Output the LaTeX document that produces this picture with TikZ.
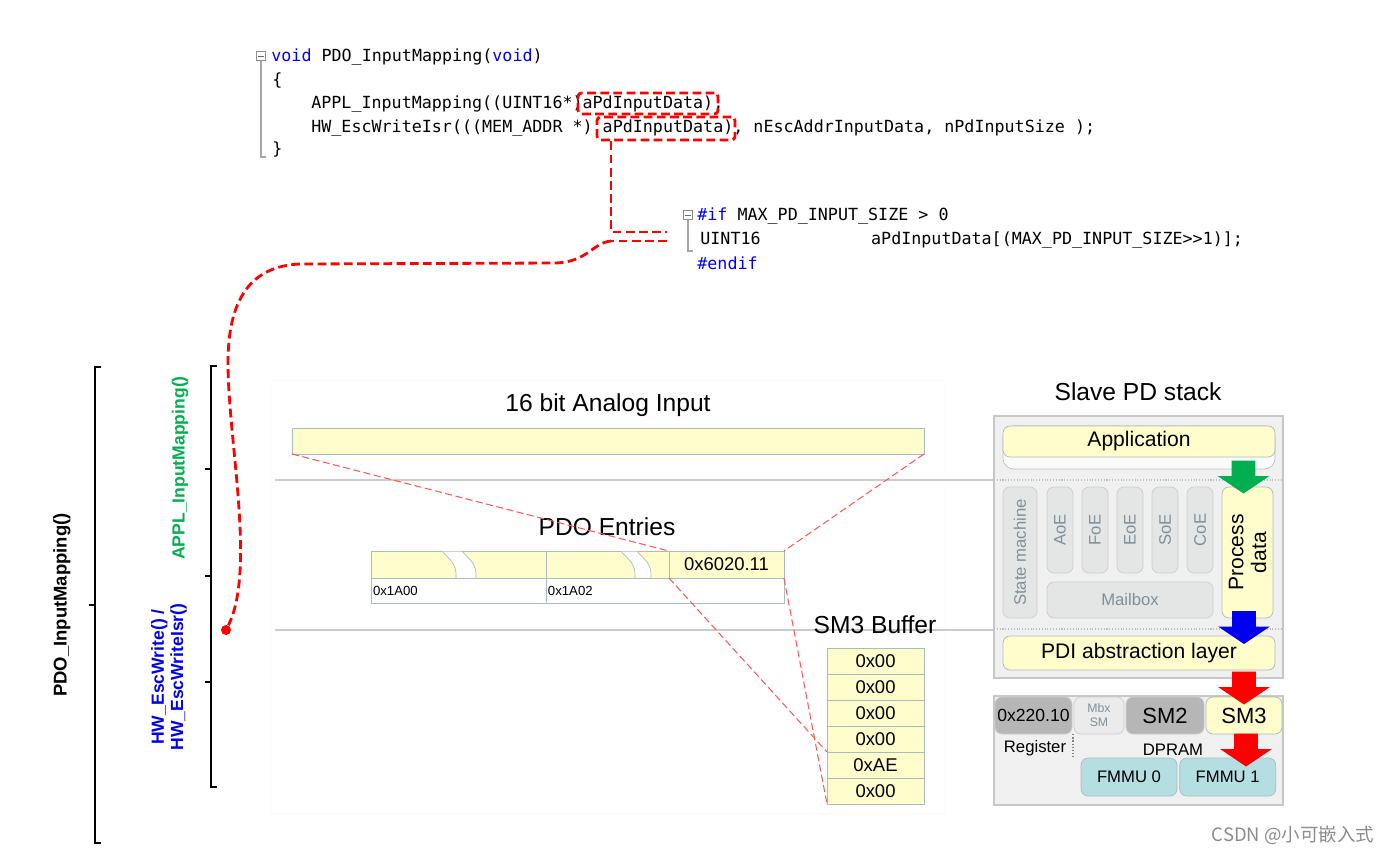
\documentclass[tikz,border=0pt]{standalone}
\usepackage{fontspec}
\setmainfont{Liberation Sans}
\setmonofont{DejaVu Sans Mono}
\newfontfamily\cjk{Noto Sans CJK SC}
\usepackage{tikz}
\usetikzlibrary{shapes.arrows, arrows, positioning}

\definecolor{padyellow}{HTML}{FFFDCC}
\definecolor{celledge}{HTML}{A8BDBD}
\definecolor{stackgray}{HTML}{F0F0F0}
\definecolor{boxgray}{HTML}{E4E6E6}
\definecolor{labelgray}{HTML}{7F9098}
\definecolor{darkcell}{HTML}{B6B6B6}
\definecolor{fmmublue}{HTML}{B5DEE2}
\definecolor{kwblue}{HTML}{0000FF}
\definecolor{okgreen}{HTML}{00B050}
\definecolor{hwblue}{HTML}{0000EE}

\begin{document}
\begin{tikzpicture}[x=0.02cm, y=-0.02cm, node distance=0.52cm]
    \tikzstyle{code} = [anchor=west, inner sep=0, font=\ttfamily\fontsize{9.5}{11}\selectfont]
    \tikzstyle{fold} = [draw=black!45, fill=white, minimum size=0.19cm, inner sep=0, path picture={\draw[black!60] ([xshift=-0.055cm]path picture bounding box.center) -- ([xshift=0.055cm]path picture bounding box.center);}]
    \tikzstyle{foldline} = [black!35, line width=0.6pt]
    \tikzstyle{hilite} = [draw=red, dash pattern=on 5pt off 2.5pt, line width=1.6pt, rounded corners=2pt, inner sep=0]
    \tikzstyle{reddash} = [red, dash pattern=on 5pt off 2.5pt, line width=1.6pt]
    \tikzstyle{brace} = [black, line width=0.8pt]
    \tikzstyle{title} = [font=\fontsize{14}{16}\selectfont]
    \tikzstyle{cell} = [draw=celledge, fill=padyellow, inner sep=0, outer sep=0, minimum height=0.52cm, font=\fontsize{10.5}{12}\selectfont]
    \tikzstyle{rowcell} = [draw=celledge, fill=white, inner ysep=0, inner xsep=0.04cm, outer sep=0, minimum height=0.5cm, align=left, font=\fontsize{7.5}{9}\selectfont]
    \tikzstyle{zoomline} = [red!65, line width=0.6pt, dash pattern=on 4pt off 2pt]
    \tikzstyle{sepline} = [black!20, line width=0.8pt]
    \tikzstyle{dotline} = [black!25, densely dotted, line width=0.6pt]
    \tikzstyle{stackbox} = [draw=black!22, fill=stackgray, line width=0.8pt, inner sep=0]
    \tikzstyle{graybox} = [draw=black!20, fill=boxgray, rounded corners=4pt, text=labelgray, inner sep=0, font=\fontsize{9.5}{11}\selectfont]
    \tikzstyle{yellowbox} = [draw=celledge, fill=padyellow, rounded corners=4pt, inner sep=0, font=\fontsize{12}{13}\selectfont]
    \tikzstyle{regcell} = [draw=black!20, rounded corners=4pt, inner sep=0, minimum height=0.74cm]
    \tikzstyle{flow} = [single arrow, rotate=-90, minimum height=0.66cm, inner xsep=0, inner ysep=0.23cm, single arrow head extend=0.28cm, single arrow tip angle=112, draw=none]

    \fill[white] (0,0) rectangle (1395,856);
    \useasboundingbox (0,0) rectangle (1395,856);

    \node (f1) [fold] at (261,56) {};
    \draw[foldline] (f1.south) -- (261,157) -- (266,157);
    \node (l1) [code] at (271,57) {\textcolor{kwblue}{void} PDO\_InputMapping(\textcolor{kwblue}{void})};
    \node (l2) [code] at (272,81) {\{};
    \node (l3) [code] at (311,104) {APPL\_InputMapping((UINT16*)aPdInputData);};
    \node (l4) [code] at (311,128) {HW\_EscWriteIsr(((MEM\_ADDR *) aPdInputData), nEscAddrInputData, nPdInputSize );};
    \node (l5) [code] at (272,150) {\}};
    \node (hl1) [hilite, minimum width=2.8cm, minimum height=0.42cm] at (648,103.5) {};
    \node (hl2) [hilite, minimum width=2.76cm, minimum height=0.46cm] at (666,128.5) {};

    \node (f2) [fold] at (688,215) {};
    \draw[foldline] (f2.south) -- (688,251) -- (693,251);
    \node (d1) [code] at (697,216) {\textcolor{kwblue}{\#if} MAX\_PD\_INPUT\_SIZE > 0};
    \node (d2) [code] at (700,240) {UINT16\hspace{62.9pt}aPdInputData[(MAX\_PD\_INPUT\_SIZE>>1)];};
    \node (d3) [code] at (697,263) {\textcolor{kwblue}{\#endif}};

    \draw[black!2] (270,380) rectangle (945,813);

    \draw[brace] (101,367) -- (95,367) -- (95,843) -- (101,843);
    \draw[brace] (95,605) -- (89,605);
    \draw[brace] (217,366) -- (211,366) -- (211,787) -- (217,787);
    \draw[brace] (211,469) -- (205,469);
    \draw[brace] (211,576) -- (205,576);
    \draw[brace] (211,682) -- (205,682);
    \node (pdomap) [rotate=90, font=\bfseries\fontsize{10.5}{12}\selectfont] at (62,605) {PDO\_InputMapping()};
    \node (applmap) [rotate=90, text=okgreen, font=\bfseries\fontsize{10}{11}\selectfont] at (180,468) {APPL\_InputMapping()};
    \node (hwwrite) [rotate=90, text=hwblue, align=center, font=\bfseries\fontsize{10}{11}\selectfont] at (169,677) {HW\_EscWrite() /\\HW\_EscWriteIsr()};

    \draw[sepline] (275,480) -- (994,480);
    \draw[sepline] (275,630) -- (994,630);

    \node (aintitle) [title] at (608,405) {16 bit Analog Input};
    \node (ain) [cell, minimum width=12.64cm] at (608,441) {};

    \node (pdotitle) [title] at (607,527) {PDO Entries};
    \node (c1) [cell, minimum width=3.5cm, minimum height=0.54cm] at (458.5,564.5) {};
    \node (c2) [cell, minimum width=2.46cm, minimum height=0.54cm, right=0pt of c1] {};
    \node (e6020) [cell, minimum width=2.3cm, minimum height=0.54cm, right=0pt of c2] {0x6020.11};
    \node (r1) [rowcell, text width=3.42cm, below=0pt of c1] {0x1A00};
    \node (r2) [rowcell, text width=4.68cm, right=0pt of r1] {0x1A02};
    \foreach \gx/\gw in {442/20, 621/16} {
        \fill[white] (\gx,551.6) .. controls (\gx+6,559) and (\gx+15,562) .. (\gx+14,577.4) -- (\gx+14+\gw,577.4) .. controls (\gx+15+\gw,562) and (\gx+6+\gw,559) .. (\gx+\gw,551.6) -- cycle;
        \draw[celledge] (\gx,551) .. controls (\gx+6,559) and (\gx+15,562) .. (\gx+14,578);
        \draw[celledge] (\gx+\gw,551) .. controls (\gx+6+\gw,559) and (\gx+15+\gw,562) .. (\gx+14+\gw,578);
    }

    \node (sm3title) [title] at (875,625) {SM3 Buffer};
    \node (b1) [cell, minimum width=1.94cm] at (875.5,661) {0x00};
    \node (b2) [cell, minimum width=1.94cm, below of=b1] {0x00};
    \node (b3) [cell, minimum width=1.94cm, below of=b2] {0x00};
    \node (b4) [cell, minimum width=1.94cm, below of=b3] {0x00};
    \node (b5) [cell, minimum width=1.94cm, below of=b4] {0xAE};
    \node (b6) [cell, minimum width=1.94cm, below of=b5] {0x00};

    \draw[zoomline] (ain.south west) -- (e6020.north west);
    \draw[zoomline] (ain.south east) -- (e6020.north east);
    \draw[zoomline] (e6020.south west) -- (b5.north west);
    \draw[zoomline] (e6020.south east) -- (b6.south west);

    \node (stacktitle) [title] at (1138,392) {Slave PD stack};
    \node (stack) [stackbox, minimum width=5.78cm, minimum height=5.24cm] at (1138.5,547) {};
    \draw[dotline] (994,480) -- (1283,480);
    \draw[dotline] (994,629) -- (1283,629);
    \node (appbg) [draw=black!25, fill=black!2, rounded corners=6pt, minimum width=5.44cm, minimum height=0.86cm] at (1139,447.5) {};
    \node (app) [yellowbox, minimum width=5.44cm, minimum height=0.62cm] at (1139,441.5) {Application};
    \node (statem) [graybox, rotate=90, minimum width=2.62cm, minimum height=0.68cm] at (1020,552.5) {State machine};
    \node (aoe) [graybox, rotate=90, minimum width=1.72cm, minimum height=0.52cm] at (1060,530) {AoE};
    \node (foe) [graybox, rotate=90, minimum width=1.72cm, minimum height=0.52cm] at (1095,530) {FoE};
    \node (eoe) [graybox, rotate=90, minimum width=1.72cm, minimum height=0.52cm] at (1130,530) {EoE};
    \node (soe) [graybox, rotate=90, minimum width=1.72cm, minimum height=0.52cm] at (1165,530) {SoE};
    \node (coe) [graybox, rotate=90, minimum width=1.72cm, minimum height=0.52cm] at (1200,530) {CoE};
    \node (mailbox) [graybox, minimum width=3.32cm, minimum height=0.72cm] at (1130,600) {Mailbox};
    \node (pd) [yellowbox, rotate=90, align=center, minimum width=2.62cm, minimum height=1.02cm] at (1247.5,552.5) {Process\\data};
    \node (pdi) [yellowbox, minimum width=5.44cm, minimum height=0.68cm] at (1139,653) {PDI abstraction layer};

    \node (dpram) [stackbox, minimum width=5.78cm, minimum height=2.18cm] at (1138.5,750.5) {};
    \node (reg) [regcell, fill=darkcell, minimum width=1.54cm, font=\fontsize{10}{12}\selectfont] at (1033.5,715.5) {0x220.10};
    \node (mbxsm) [regcell, fill=black!8, minimum width=1.0cm, text=labelgray, align=center, font=\fontsize{7}{8}\selectfont] at (1099,715.5) {Mbx\\SM};
    \node (sm2) [regcell, fill=darkcell, minimum width=1.56cm, font=\fontsize{12.5}{14}\selectfont] at (1165,715.5) {SM2};
    \node (sm3) [regcell, draw=celledge, fill=padyellow, minimum width=1.52cm, font=\fontsize{12.5}{14}\selectfont] at (1244,715.5) {SM3};
    \node (reglbl) [font=\fontsize{9.5}{11}\selectfont] at (1035,748) {Register};
    \node (dpramlbl) [font=\fontsize{9.5}{11}\selectfont] at (1173,750) {DPRAM};
    \draw[black!50, densely dotted, line width=0.8pt] (1073,734) -- (1073,757);
    \node (fmmu0) [regcell, draw=celledge, fill=fmmublue, minimum width=1.92cm, minimum height=0.76cm, font=\fontsize{9.5}{11}\selectfont] at (1129,777) {FMMU 0};
    \node (fmmu1) [regcell, draw=celledge, fill=fmmublue, minimum width=1.92cm, minimum height=0.76cm, font=\fontsize{9.5}{11}\selectfont, right=0.04cm of fmmu0] {FMMU 1};

    \node (garrow) [flow, fill=okgreen] at (1243.5,473) {};
    \node (barrow) [flow, fill=hwblue] at (1244,623.5) {};
    \node (rarrow1) [flow, fill=red] at (1244,684) {};
    \node (rarrow2) [flow, fill=red] at (1246,746) {};

    \coordinate (tap) at (611,232);
    \coordinate (tapend) at (667,232);
    \coordinate (tapb) at (611,241);
    \coordinate (tapbend) at (667,241);
    \node (hwdot) [circle, fill=red, inner sep=0, minimum size=0.2cm] at (226,630) {};
    \draw[reddash] (hl2.south -| tap) -- (tap) -- (tapend);
    \draw[reddash] (tapbend) -- (tapb);
    \draw[reddash] (tapb) .. controls (592,243) and (588,262) .. (555,263) -- (300,264) .. controls (250,266) and (228,300) .. (228,363) .. controls (228,440) and (256,570) .. (hwdot);

    \node (wm) [text=black!45, font=\cjk\fontsize{10.5}{12}\selectfont] at (1293,835) {CSDN @小可嵌入式};
\end{tikzpicture}
\end{document}
